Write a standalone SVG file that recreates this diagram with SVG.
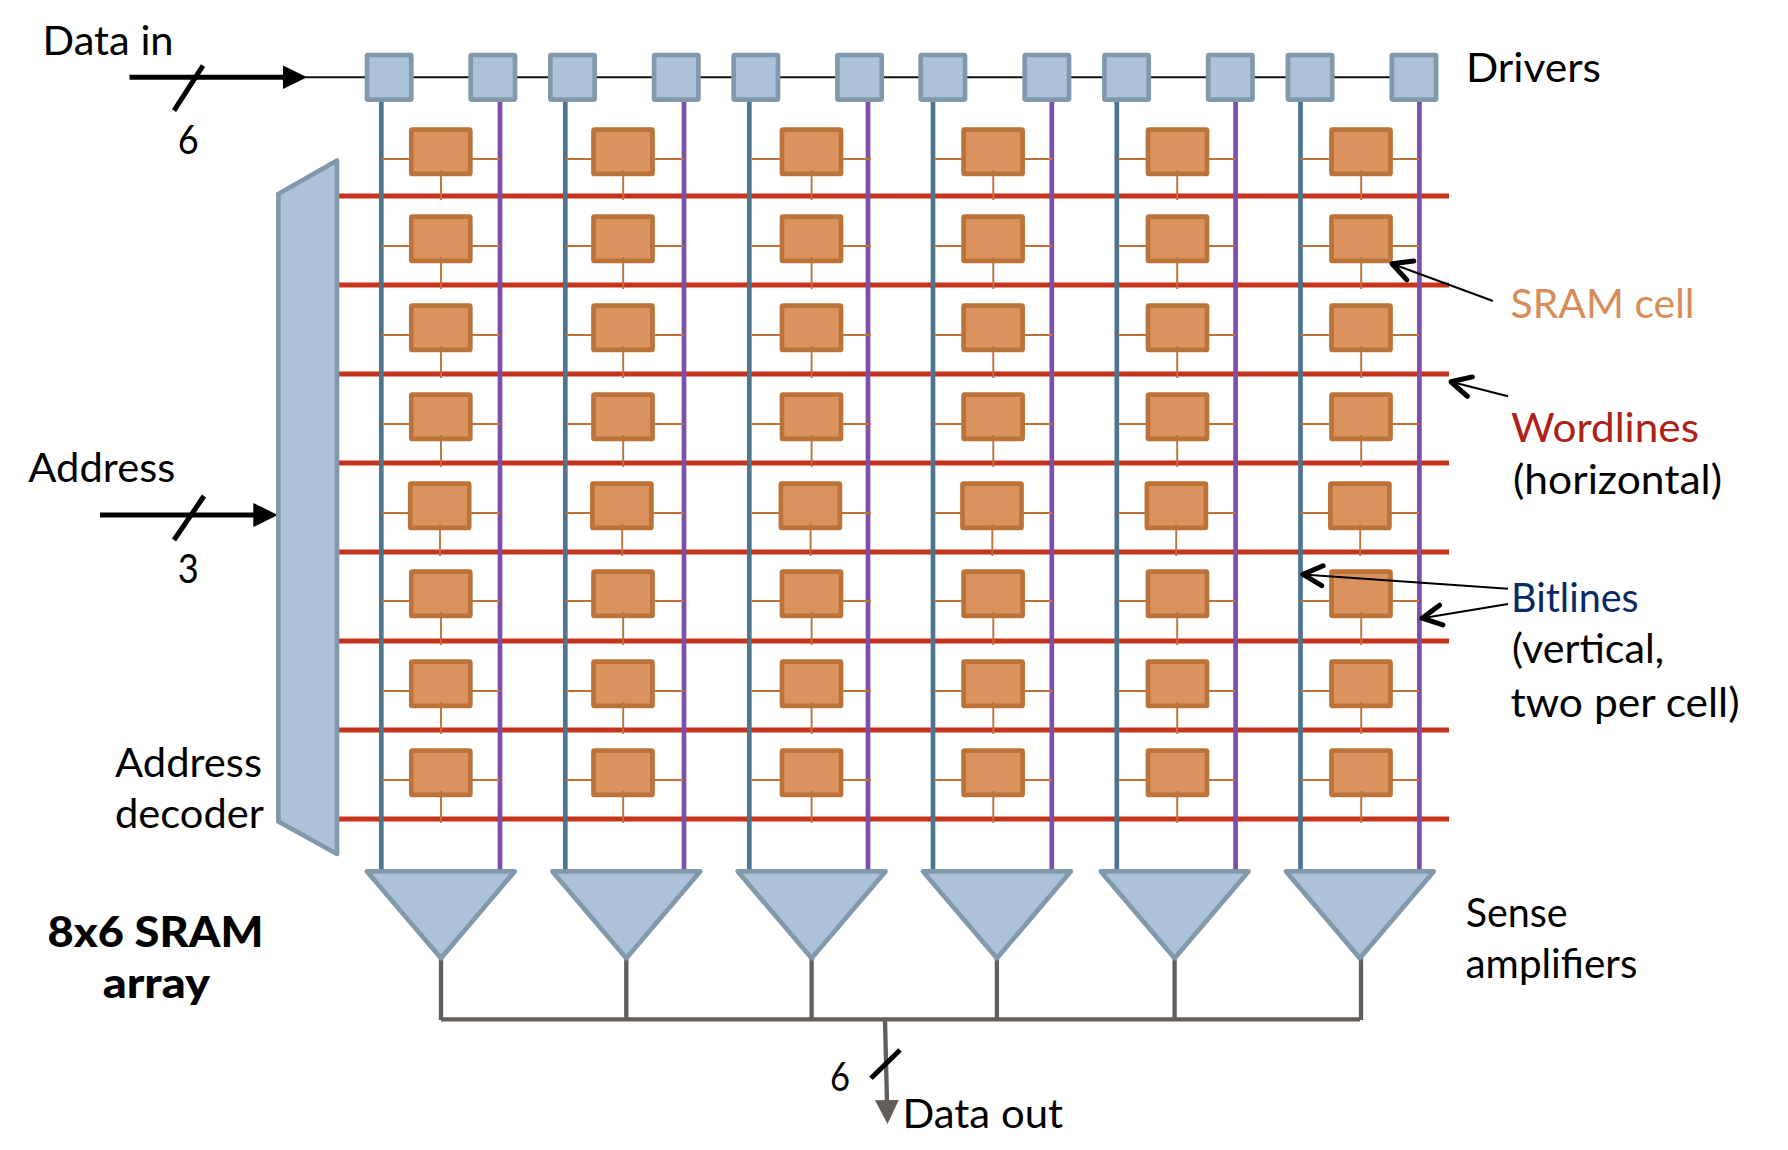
<svg xmlns="http://www.w3.org/2000/svg" width="1788" height="1150" viewBox="0 0 1788 1150">
<style>
text{font-family:"Lato","Noto Sans",sans-serif;font-size:41.500px;fill:#000}
.b{font-weight:900}
.blue{fill:#acc2d9;stroke:#8299ac;stroke-width:4.7;stroke-linejoin:round}
.cell{fill:#da935e;stroke:#bb7339;stroke-width:4.7}
.stub{fill:none;stroke:#bb7339;stroke-width:1.9}
.wl{stroke:#c5331c;stroke-width:5;fill:none}
.bl1{stroke:#4e7590;stroke-width:4.7;fill:none}
.bl2{stroke:#7d4fa8;stroke-width:4.7;fill:none}
.bus{stroke:#635e5a;stroke-width:4.3;fill:none}
.blk{stroke:#000;stroke-width:5;fill:none}
.thin{stroke:#111;stroke-width:2;fill:none}
.call{stroke:#000;stroke-width:2;fill:none;marker-end:url(#open)}
</style>
<defs>
<marker id="open" markerUnits="userSpaceOnUse" markerWidth="40" markerHeight="40" refX="24" refY="15" orient="auto" viewBox="0 0 40 40"><path d="M4.5 5L24 15L4.500 25" fill="none" stroke="#000" stroke-width="5" stroke-linecap="round" stroke-linejoin="round"/></marker>
<marker id="solid" markerUnits="userSpaceOnUse" markerWidth="30" markerHeight="30" refX="2" refY="12" orient="auto" viewBox="0 0 30 30"><path d="M0 0L24.500 12L0 24Z" fill="#000"/></marker>
<marker id="grey" markerUnits="userSpaceOnUse" markerWidth="30" markerHeight="30" refX="2" refY="12" orient="auto" viewBox="0 0 30 30"><path d="M0 0L24 12L0 24Z" fill="#635e5a"/></marker>
</defs>
<rect width="1788" height="1150" fill="#fff"/>
<g id="connectors">
<path class="thin" d="M300 77.300H1392"/>
<path class="wl" d="M338 196H1449M338 285H1449M338 374H1449M338 463H1449M338 552H1449M338 641H1449M338 730H1449M338 819H1449"/>
<path class="bl1" d="M381.300 100V870M565.300 100V870M749.300 100V870M933 100V870M1116.800 100V870M1300.500 100V870"/>
<path class="bl2" d="M500 100V870M684 100V870M868 100V870M1051.800 100V870M1235.600 100V870M1419.400 100V870"/>
<path class="blk" d="M129.500 77.300H284.600" style="marker-end:url(#solid)"/>
<path class="blk" d="M203 65.700L174 110.700"/>
<path class="blk" d="M100 515H255.300" style="marker-end:url(#solid)"/>
<path class="blk" d="M204 496L174 540"/>
<path class="bus" d="M441 958V1020M626.300 958V1020M811.600 958V1020M996.900 958V1020M1174.600 958V1020M1361 958V1020M441 1019.300H1360"/>
<path class="bus" d="M885 1020L887 1102" style="marker-end:url(#grey)"/>
<path class="blk" d="M900 1050L871 1078.300"/>
</g>
<g id="decoder"><path class="blue" d="M278.400 194L337 160.500V854L278.400 821.500Z"/></g>
<g id="driver-1"><rect class="blue" x="367" y="55" width="44.300" height="44.600" rx="1"/></g>
<g id="driver-2"><rect class="blue" x="470.700" y="55" width="44.300" height="44.600" rx="1"/></g>
<g id="driver-3"><rect class="blue" x="550.400" y="55" width="44.300" height="44.600" rx="1"/></g>
<g id="driver-4"><rect class="blue" x="654.100" y="55" width="44.300" height="44.600" rx="1"/></g>
<g id="driver-5"><rect class="blue" x="733.700" y="55" width="44.300" height="44.600" rx="1"/></g>
<g id="driver-6"><rect class="blue" x="837.400" y="55" width="44.300" height="44.600" rx="1"/></g>
<g id="driver-7"><rect class="blue" x="920.700" y="55" width="44.300" height="44.600" rx="1"/></g>
<g id="driver-8"><rect class="blue" x="1024.700" y="55" width="44.300" height="44.600" rx="1"/></g>
<g id="driver-9"><rect class="blue" x="1104.400" y="55" width="44.300" height="44.600" rx="1"/></g>
<g id="driver-10"><rect class="blue" x="1208.200" y="55" width="44.300" height="44.600" rx="1"/></g>
<g id="driver-11"><rect class="blue" x="1287.900" y="55" width="44.300" height="44.600" rx="1"/></g>
<g id="driver-12"><rect class="blue" x="1391.800" y="55" width="44.300" height="44.600" rx="1"/></g>

<g id="amp-1"><path class="blue" d="M367 871.400H514.700L441 958.300Z"/></g>
<g id="amp-2"><path class="blue" d="M552.400 871.400H700.200L626.300 958.300Z"/></g>
<g id="amp-3"><path class="blue" d="M737.800 871.400H885.500L811.600 958.300Z"/></g>
<g id="amp-4"><path class="blue" d="M923 871.400H1070.800L996.900 958.300Z"/></g>
<g id="amp-5"><path class="blue" d="M1100.800 871.400H1248.500L1174.600 958.300Z"/></g>
<g id="amp-6"><path class="blue" d="M1286 871.400H1433.700L1359.800 958.300Z"/></g>

<g id="cell-r1-c1"><rect class="cell" x="411.300" y="129.700" width="59" height="44.200" rx="1"/><path class="stub" d="M381.300 159H411M470 159H500M441 170V200"/></g>
<g id="cell-r1-c2"><rect class="cell" x="593.500" y="129.700" width="59" height="44.200" rx="1"/><path class="stub" d="M565.300 159H594M652 159H684M623.200 170V200"/></g>
<g id="cell-r1-c3"><rect class="cell" x="782" y="129.700" width="59" height="44.200" rx="1"/><path class="stub" d="M752 159H782M841 159H871M811.600 170V200"/></g>
<g id="cell-r1-c4"><rect class="cell" x="963.600" y="129.700" width="59" height="44.200" rx="1"/><path class="stub" d="M934 159H964M1022 159H1052.300M993.300 170V200"/></g>
<g id="cell-r1-c5"><rect class="cell" x="1148" y="129.700" width="59" height="44.200" rx="1"/><path class="stub" d="M1118.300 159H1148M1206 159H1235.600M1177.200 170V200"/></g>
<g id="cell-r1-c6"><rect class="cell" x="1331.500" y="129.700" width="59" height="44.200" rx="1"/><path class="stub" d="M1300.500 159H1332M1390 159H1419.400M1361.200 170V200"/></g>

<g id="cell-r2-c1"><rect class="cell" x="411.300" y="216.700" width="59" height="44.200" rx="1"/><path class="stub" d="M381.300 246H411M470 246H500M441 257V289"/></g>
<g id="cell-r2-c2"><rect class="cell" x="593.500" y="216.700" width="59" height="44.200" rx="1"/><path class="stub" d="M565.300 246H594M652 246H684M623.200 257V289"/></g>
<g id="cell-r2-c3"><rect class="cell" x="782" y="216.700" width="59" height="44.200" rx="1"/><path class="stub" d="M752 246H782M841 246H871M811.600 257V289"/></g>
<g id="cell-r2-c4"><rect class="cell" x="963.600" y="216.700" width="59" height="44.200" rx="1"/><path class="stub" d="M934 246H964M1022 246H1052.300M993.300 257V289"/></g>
<g id="cell-r2-c5"><rect class="cell" x="1148" y="216.700" width="59" height="44.200" rx="1"/><path class="stub" d="M1118.300 246H1148M1206 246H1235.600M1177.200 257V289"/></g>
<g id="cell-r2-c6"><rect class="cell" x="1331.500" y="216.700" width="59" height="44.200" rx="1"/><path class="stub" d="M1300.500 246H1332M1390 246H1419.400M1361.200 257V289"/></g>

<g id="cell-r3-c1"><rect class="cell" x="411.300" y="305.700" width="59" height="44.200" rx="1"/><path class="stub" d="M381.300 335H411M470 335H500M441 346V378"/></g>
<g id="cell-r3-c2"><rect class="cell" x="593.500" y="305.700" width="59" height="44.200" rx="1"/><path class="stub" d="M565.300 335H594M652 335H684M623.200 346V378"/></g>
<g id="cell-r3-c3"><rect class="cell" x="782" y="305.700" width="59" height="44.200" rx="1"/><path class="stub" d="M752 335H782M841 335H871M811.600 346V378"/></g>
<g id="cell-r3-c4"><rect class="cell" x="963.600" y="305.700" width="59" height="44.200" rx="1"/><path class="stub" d="M934 335H964M1022 335H1052.300M993.300 346V378"/></g>
<g id="cell-r3-c5"><rect class="cell" x="1148" y="305.700" width="59" height="44.200" rx="1"/><path class="stub" d="M1118.300 335H1148M1206 335H1235.600M1177.200 346V378"/></g>
<g id="cell-r3-c6"><rect class="cell" x="1331.500" y="305.700" width="59" height="44.200" rx="1"/><path class="stub" d="M1300.500 335H1332M1390 335H1419.400M1361.200 346V378"/></g>

<g id="cell-r4-c1"><rect class="cell" x="411.300" y="394.700" width="59" height="44.200" rx="1"/><path class="stub" d="M381.300 424H411M470 424H500M441 435V467"/></g>
<g id="cell-r4-c2"><rect class="cell" x="593.500" y="394.700" width="59" height="44.200" rx="1"/><path class="stub" d="M565.300 424H594M652 424H684M623.200 435V467"/></g>
<g id="cell-r4-c3"><rect class="cell" x="782" y="394.700" width="59" height="44.200" rx="1"/><path class="stub" d="M752 424H782M841 424H871M811.600 435V467"/></g>
<g id="cell-r4-c4"><rect class="cell" x="963.600" y="394.700" width="59" height="44.200" rx="1"/><path class="stub" d="M934 424H964M1022 424H1052.300M993.300 435V467"/></g>
<g id="cell-r4-c5"><rect class="cell" x="1148" y="394.700" width="59" height="44.200" rx="1"/><path class="stub" d="M1118.300 424H1148M1206 424H1235.600M1177.200 435V467"/></g>
<g id="cell-r4-c6"><rect class="cell" x="1331.500" y="394.700" width="59" height="44.200" rx="1"/><path class="stub" d="M1300.500 424H1332M1390 424H1419.400M1361.200 435V467"/></g>

<g id="cell-r5-c1"><rect class="cell" x="410.200" y="483.700" width="59" height="44.200" rx="1"/><path class="stub" d="M381.300 513H411M469 513H500M440 524V556"/></g>
<g id="cell-r5-c2"><rect class="cell" x="592.400" y="483.700" width="59" height="44.200" rx="1"/><path class="stub" d="M565.300 513H593M651 513H684M622.200 524V556"/></g>
<g id="cell-r5-c3"><rect class="cell" x="780.900" y="483.700" width="59" height="44.200" rx="1"/><path class="stub" d="M752 513H781M840 513H871M810.600 524V556"/></g>
<g id="cell-r5-c4"><rect class="cell" x="962.500" y="483.700" width="59" height="44.200" rx="1"/><path class="stub" d="M934 513H963M1021 513H1052.300M992.300 524V556"/></g>
<g id="cell-r5-c5"><rect class="cell" x="1146.900" y="483.700" width="59" height="44.200" rx="1"/><path class="stub" d="M1118.300 513H1147M1205 513H1235.600M1176.200 524V556"/></g>
<g id="cell-r5-c6"><rect class="cell" x="1330.400" y="483.700" width="59" height="44.200" rx="1"/><path class="stub" d="M1300.500 513H1331M1389 513H1419.400M1360.200 524V556"/></g>

<g id="cell-r6-c1"><rect class="cell" x="411.300" y="571.700" width="59" height="44.200" rx="1"/><path class="stub" d="M381.300 601H411M470 601H500M441 612V645"/></g>
<g id="cell-r6-c2"><rect class="cell" x="593.500" y="571.700" width="59" height="44.200" rx="1"/><path class="stub" d="M565.300 601H594M652 601H684M623.200 612V645"/></g>
<g id="cell-r6-c3"><rect class="cell" x="782" y="571.700" width="59" height="44.200" rx="1"/><path class="stub" d="M752 601H782M841 601H871M811.600 612V645"/></g>
<g id="cell-r6-c4"><rect class="cell" x="963.600" y="571.700" width="59" height="44.200" rx="1"/><path class="stub" d="M934 601H964M1022 601H1052.300M993.300 612V645"/></g>
<g id="cell-r6-c5"><rect class="cell" x="1148" y="571.700" width="59" height="44.200" rx="1"/><path class="stub" d="M1118.300 601H1148M1206 601H1235.600M1177.200 612V645"/></g>
<g id="cell-r6-c6"><rect class="cell" x="1331.500" y="571.700" width="59" height="44.200" rx="1"/><path class="stub" d="M1300.500 601H1332M1390 601H1419.400M1361.200 612V645"/></g>

<g id="cell-r7-c1"><rect class="cell" x="411.300" y="661.700" width="59" height="44.200" rx="1"/><path class="stub" d="M381.300 691H411M470 691H500M441 702V734"/></g>
<g id="cell-r7-c2"><rect class="cell" x="593.500" y="661.700" width="59" height="44.200" rx="1"/><path class="stub" d="M565.300 691H594M652 691H684M623.200 702V734"/></g>
<g id="cell-r7-c3"><rect class="cell" x="782" y="661.700" width="59" height="44.200" rx="1"/><path class="stub" d="M752 691H782M841 691H871M811.600 702V734"/></g>
<g id="cell-r7-c4"><rect class="cell" x="963.600" y="661.700" width="59" height="44.200" rx="1"/><path class="stub" d="M934 691H964M1022 691H1052.300M993.300 702V734"/></g>
<g id="cell-r7-c5"><rect class="cell" x="1148" y="661.700" width="59" height="44.200" rx="1"/><path class="stub" d="M1118.300 691H1148M1206 691H1235.600M1177.200 702V734"/></g>
<g id="cell-r7-c6"><rect class="cell" x="1331.500" y="661.700" width="59" height="44.200" rx="1"/><path class="stub" d="M1300.500 691H1332M1390 691H1419.400M1361.200 702V734"/></g>

<g id="cell-r8-c1"><rect class="cell" x="411.300" y="750.700" width="59" height="44.200" rx="1"/><path class="stub" d="M381.300 780H411M470 780H500M441 791V823"/></g>
<g id="cell-r8-c2"><rect class="cell" x="593.500" y="750.700" width="59" height="44.200" rx="1"/><path class="stub" d="M565.300 780H594M652 780H684M623.200 791V823"/></g>
<g id="cell-r8-c3"><rect class="cell" x="782" y="750.700" width="59" height="44.200" rx="1"/><path class="stub" d="M752 780H782M841 780H871M811.600 791V823"/></g>
<g id="cell-r8-c4"><rect class="cell" x="963.600" y="750.700" width="59" height="44.200" rx="1"/><path class="stub" d="M934 780H964M1022 780H1052.300M993.300 791V823"/></g>
<g id="cell-r8-c5"><rect class="cell" x="1148" y="750.700" width="59" height="44.200" rx="1"/><path class="stub" d="M1118.300 780H1148M1206 780H1235.600M1177.200 791V823"/></g>
<g id="cell-r8-c6"><rect class="cell" x="1331.500" y="750.700" width="59" height="44.200" rx="1"/><path class="stub" d="M1300.500 780H1332M1390 780H1419.400M1361.200 791V823"/></g>

<g id="callouts">
<path class="call" d="M1493 301L1392 263.700"/>
<path class="call" d="M1508 396.300L1451 381.800"/>
<path class="call" d="M1508 588.700L1303 574.400"/>
<path class="call" d="M1508 604L1422 618.200"/>
</g>
<g id="labels">
<text x="42.600" y="55" textLength="131" lengthAdjust="spacingAndGlyphs">Data in</text>
<text x="177.700" y="154" textLength="21" lengthAdjust="spacingAndGlyphs">6</text>
<text x="28.300" y="481.700" textLength="147" lengthAdjust="spacingAndGlyphs">Address</text>
<text x="177.700" y="583.300" textLength="21" lengthAdjust="spacingAndGlyphs">3</text>
<text x="115" y="776.700" textLength="147" lengthAdjust="spacingAndGlyphs">Address</text>
<text x="115" y="828" textLength="149" lengthAdjust="spacingAndGlyphs">decoder</text>
<text class="b" x="47.500" y="947" textLength="216" lengthAdjust="spacingAndGlyphs">8x6 SRAM</text>
<text class="b" x="102.700" y="997.700" textLength="107.300" lengthAdjust="spacingAndGlyphs">array</text>
<text x="1466" y="81.700" textLength="135" lengthAdjust="spacingAndGlyphs">Drivers</text>
<text x="1510.500" y="318" textLength="184" lengthAdjust="spacingAndGlyphs" style="fill:#d88c5a">SRAM cell</text>
<text x="1511" y="442.300" textLength="188" lengthAdjust="spacingAndGlyphs" style="fill:#ad2118">Wordlines</text>
<text x="1513" y="494" textLength="209" lengthAdjust="spacingAndGlyphs">(horizontal)</text>
<text x="1511" y="611.700" textLength="127.700" lengthAdjust="spacingAndGlyphs" style="fill:#0a2a66">Bitlines</text>
<text x="1512" y="663" textLength="152" lengthAdjust="spacingAndGlyphs">(vertical,</text>
<text x="1510.500" y="716.700" textLength="229" lengthAdjust="spacingAndGlyphs">two per cell)</text>
<text x="1465.700" y="926.700" textLength="102" lengthAdjust="spacingAndGlyphs">Sense</text>
<text x="1465.500" y="978.300" textLength="172" lengthAdjust="spacingAndGlyphs">amplifiers</text>
<text x="830" y="1090.700" textLength="20" lengthAdjust="spacingAndGlyphs">6</text>
<text x="902.500" y="1128.300" textLength="160.500" lengthAdjust="spacingAndGlyphs">Data out</text>
</g>
</svg>
